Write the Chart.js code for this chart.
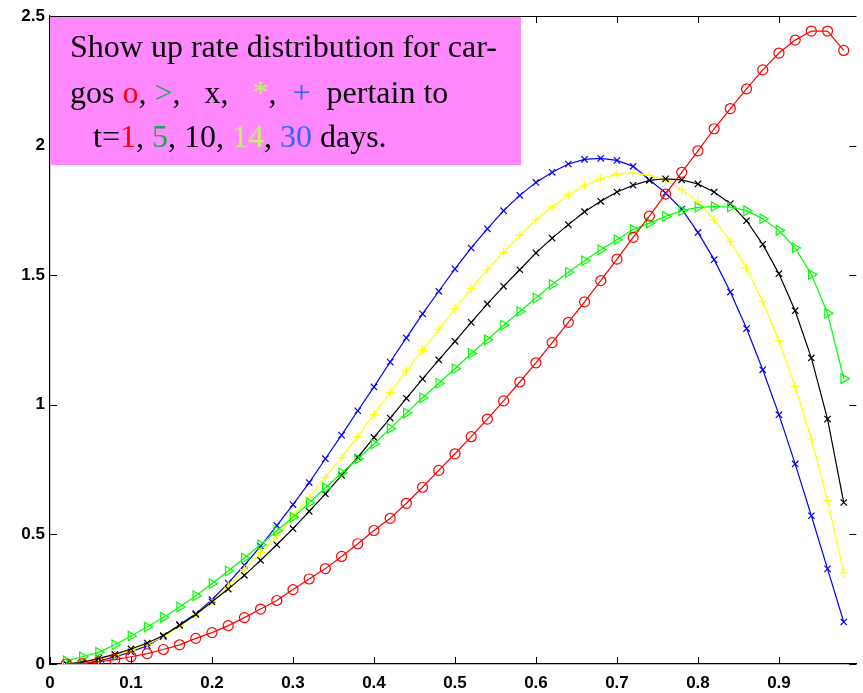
<!DOCTYPE html>
<html>
<head>
<meta charset="utf-8">
<script src="https://cdn.jsdelivr.net/npm/chart.js@4.4.1/dist/chart.umd.min.js"></script>
<style>
  body { margin: 0; background: #fff; }
  #wrap { width: 863px; height: 693px; }
</style>
</head>
<body>
<div id="wrap"><canvas id="rateChart" width="863" height="693"></canvas></div>
<script>
//x positions of the samples
const X_VALUES = [0.02,0.04,0.06,0.08,0.10,0.12,0.14,0.16,0.18,0.20,
    0.22,0.24,0.26,0.28,0.30,0.32,0.34,0.36,0.38,0.40,
    0.42,0.44,0.46,0.48,0.50,0.52,0.54,0.56,0.58,0.60,
    0.62,0.64,0.66,0.68,0.70,0.72,0.74,0.76,0.78,0.80,
    0.82,0.84,0.86,0.88,0.90,0.92,0.94,0.96,0.98];

//(1) t=1 day, red circles
const T1_RATE = [0.000,0.002,0.008,0.017,0.028,0.040,0.056,0.074,0.099,0.121,
    0.148,0.179,0.212,0.245,0.287,0.328,0.368,0.415,0.464,0.515,
    0.562,0.620,0.682,0.747,0.811,0.877,0.945,1.015,1.088,1.162,
    1.240,1.318,1.397,1.479,1.562,1.646,1.728,1.813,1.897,1.980,
    2.065,2.143,2.219,2.292,2.357,2.407,2.442,2.442,2.367];

//(2) t=5 days, green triangles
const T5_RATE = [0.012,0.028,0.045,0.074,0.108,0.143,0.180,0.220,0.263,0.310,
    0.359,0.409,0.460,0.514,0.566,0.621,0.680,0.737,0.791,0.849,
    0.909,0.968,1.027,1.083,1.139,1.198,1.251,1.307,1.360,1.412,
    1.464,1.511,1.556,1.598,1.637,1.676,1.701,1.727,1.749,1.762,
    1.765,1.763,1.749,1.718,1.673,1.605,1.503,1.353,1.101];

//(3) t=10 days, black x
const T10_RATE = [0.001,0.006,0.022,0.037,0.058,0.081,0.110,0.149,0.191,0.240,
    0.289,0.342,0.400,0.460,0.522,0.589,0.656,0.728,0.797,0.874,
    0.949,1.025,1.100,1.173,1.245,1.318,1.389,1.457,1.521,1.586,
    1.643,1.695,1.745,1.785,1.821,1.847,1.866,1.872,1.868,1.852,
    1.821,1.776,1.710,1.619,1.506,1.363,1.181,0.945,0.623];

//(4) t=14 days, yellow +
const T14_RATE = [0.002,0.005,0.018,0.033,0.052,0.075,0.105,0.145,0.190,0.242,
    0.299,0.364,0.430,0.495,0.570,0.643,0.720,0.797,0.878,0.962,
    1.048,1.130,1.210,1.291,1.370,1.448,1.521,1.588,1.654,1.714,
    1.763,1.809,1.847,1.872,1.890,1.894,1.885,1.866,1.830,1.784,
    1.714,1.630,1.528,1.398,1.247,1.071,0.868,0.631,0.351];

//(5) t=30 days, blue x
const T30_RATE = [0.001,0.003,0.012,0.027,0.047,0.071,0.106,0.152,0.194,0.248,
    0.312,0.381,0.455,0.534,0.615,0.700,0.792,0.883,0.977,1.069,
    1.165,1.258,1.351,1.438,1.524,1.605,1.679,1.749,1.808,1.858,
    1.897,1.929,1.947,1.951,1.943,1.920,1.868,1.817,1.755,1.665,
    1.560,1.435,1.294,1.135,0.962,0.772,0.572,0.367,0.162];

//Tick values / labels
const X_TICKS = [0,0.1,0.2,0.3,0.4,0.5,0.6,0.7,0.8,0.9];
const X_TICK_LABELS = ['0','0.1','0.2','0.3','0.4','0.5','0.6','0.7','0.8','0.9'];
const Y_TICKS = [0,0.5,1,1.5,2,2.5];
const Y_TICK_LABELS = ['0','0.5','1','1.5','2','2.5'];

//Text of the note box: [text, colour] per line
const NOTE_LINES = [
    [['Show up rate distribution for car-', '#000']],
    [['gos ', '#000'], ['o', '#ff0000'], [', ', '#000'], ['>', '#1aa850'], [',   x,   ', '#000'],
     ['*', '#c8f06a'], [',  ', '#000'], ['+', '#3366ff'], ['  pertain to', '#000']],
    [['t=', '#000'], ['1', '#ff0000'], [', ', '#000'], ['5', '#1aa850'], [', 10, ', '#000'],
     ['14', '#c8f06a'], [', ', '#000'], ['30', '#3366ff'], [' days.', '#000']]
];

function toPoints(values) {
    return X_VALUES.map((x, i) => ({x: x, y: values[i]}));
}

//inward tick marks on all sides + top frame line
const frameTicks = {
    id: 'frameTicks',
    afterDatasetsDraw(chart) {
        const ctx = chart.ctx;
        const a = chart.chartArea;
        const xs = chart.scales.x, ys = chart.scales.y;
        const len = 7;
        ctx.save();
        ctx.strokeStyle = '#000';
        ctx.lineWidth = 1;
        ctx.beginPath();
        ctx.moveTo(a.left, a.top + 0.5);
        ctx.lineTo(a.right, a.top + 0.5);
        xs.ticks.forEach(t => {
            const px = Math.round(xs.getPixelForValue(t.value)) + 0.5;
            ctx.moveTo(px, a.bottom);
            ctx.lineTo(px, a.bottom - len);
            ctx.moveTo(px, a.top);
            ctx.lineTo(px, a.top + len);
        });
        ys.ticks.forEach(t => {
            const py = Math.round(ys.getPixelForValue(t.value)) + 0.5;
            ctx.moveTo(a.left, py);
            ctx.lineTo(a.left + len, py);
            ctx.moveTo(a.right, py);
            ctx.lineTo(a.right - len, py);
        });
        ctx.stroke();
        ctx.restore();
    },
    afterDraw(chart) {
        //pink note box in the upper left
        const ctx = chart.ctx;
        ctx.save();
        ctx.fillStyle = '#ff88ff';
        ctx.fillRect(50, 17, 471, 148);
        ctx.font = '32px "Liberation Serif", "Times New Roman", serif';
        ctx.textBaseline = 'alphabetic';
        const starts = [70, 70, 93];
        const baselines = [57, 103, 147];
        NOTE_LINES.forEach((line, li) => {
            let x = starts[li];
            line.forEach(seg => {
                ctx.fillStyle = seg[1];
                ctx.fillText(seg[0], x, baselines[li]);
                x += ctx.measureText(seg[0]).width;
            });
        });
        ctx.restore();
    }
};

const ctx = document.getElementById('rateChart').getContext('2d');

new Chart(ctx, {
    type: 'line',
    data: {
        datasets: [
            {data: toPoints(T1_RATE), borderColor: '#ff0000', pointStyle: 'circle', pointRadius: 5},
            {data: toPoints(T5_RATE), borderColor: '#00ff00', pointStyle: 'triangle', pointRotation: 90, pointRadius: 5.5},
            {data: toPoints(T10_RATE), borderColor: '#000000', pointStyle: 'crossRot', pointRadius: 4.5},
            {data: toPoints(T14_RATE), borderColor: '#ffff00', pointStyle: 'cross', pointRadius: 4.5},
            {data: toPoints(T30_RATE), borderColor: '#0000ff', pointStyle: 'crossRot', pointRadius: 4.5}
        ].map(d => Object.assign({
            borderWidth: 1.2,
            tension: 0,
            fill: false,
            pointBorderWidth: 1.2,
            pointBackgroundColor: 'rgba(0,0,0,0)',
            pointBorderColor: d.borderColor
        }, d))
    },
    options: {
        responsive: false,
        animation: false,
        layout: {padding: {top: 16, right: 0, left: 0, bottom: 0}},
        plugins: {legend: {display: false}, tooltip: {enabled: false}},
        scales: {
            x: {
                type: 'linear',
                min: 0,
                max: 0.9955,
                afterBuildTicks: s => { s.ticks = X_TICKS.map(v => ({value: v})); },
                afterFit: s => { s.height = 29; },
                grid: {drawOnChartArea: false, drawTicks: false},
                border: {display: true, color: '#000', width: 1.2},
                ticks: {
                    autoSkip: false,
                    maxRotation: 0,
                    padding: 9,
                    color: '#000',
                    font: {family: '"Liberation Sans", Arial, sans-serif', size: 17, weight: 'bold'},
                    callback: (v, i) => X_TICK_LABELS[i]
                }
            },
            y: {
                min: 0,
                max: 2.5,
                afterBuildTicks: s => { s.ticks = Y_TICKS.map(v => ({value: v})); },
                afterFit: s => { s.width = 50; },
                grid: {drawOnChartArea: false, drawTicks: false},
                border: {display: true, color: '#000', width: 1.2},
                ticks: {
                    padding: 5,
                    color: '#000',
                    font: {family: '"Liberation Sans", Arial, sans-serif', size: 17, weight: 'bold'},
                    callback: (v, i) => Y_TICK_LABELS[i]
                }
            }
        }
    },
    plugins: [frameTicks]
});
</script>
</body>
</html>
